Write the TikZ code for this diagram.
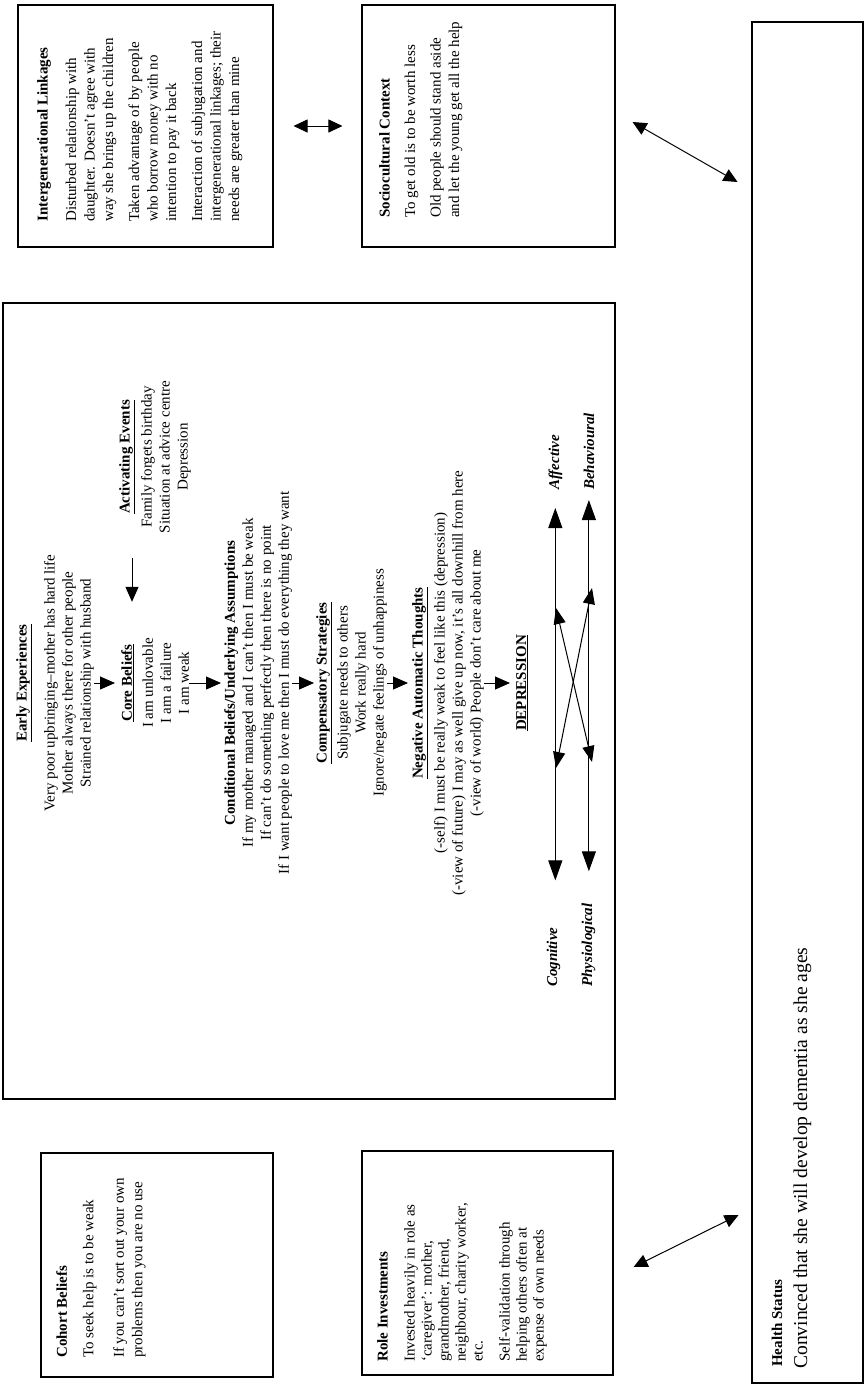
\documentclass[tikz,border=0pt]{standalone}
\usepackage{fontspec}
\setmainfont{Liberation Serif}
\usetikzlibrary{arrows.meta,calc}
\begin{document}
\begin{tikzpicture}[x=1pt,y=-1pt,
  box/.style={draw,line width=1.1pt,inner sep=0pt},
  tb/.style={rotate=90,inner sep=0pt,font=\fontsize{15}{18}\selectfont,align=center,anchor=north},
  bx/.style={rotate=90,inner sep=0pt,font=\fontsize{15}{18.5}\selectfont,align=left,anchor=north west},
  lab/.style={rotate=90,inner sep=0pt,font=\bfseries\itshape\fontsize{15}{18}\selectfont,anchor=base west},
  arr/.style={-{Triangle[length=15pt,width=13pt]},line width=1pt},
  darr/.style={{Triangle[length=14pt,width=13pt]}-{Triangle[length=14pt,width=13pt]},line width=1pt},
  varr/.style={{Triangle[length=20pt,width=14pt]}-{Triangle[length=20pt,width=14pt]},line width=1pt},
  xarr/.style={{Triangle[length=16pt,width=12pt]}-{Triangle[length=16pt,width=12pt]},line width=1pt}]
\useasboundingbox[fill=white] (0,0) rectangle (865,1385);

% outer boxes
\node[box,minimum width=255pt,minimum height=242pt] (ig) at (145.5,126) {};
\node[box,minimum width=253pt,minimum height=242pt] (sc) at (488.5,126) {};
\node[box,minimum width=111pt,minimum height=1361pt] (hs) at (807.5,702.5) {};
\node[box,minimum width=612pt,minimum height=796pt] (main) at (309,701) {};
\node[box,minimum width=232pt,minimum height=224pt] (cb) at (157,1265) {};
\node[box,minimum width=251pt,minimum height=224pt] (ri) at (487.5,1263) {};

% box texts
\node[bx] (igt) at (37,222) {\textbf{Intergenerational Linkages}\\[10pt]
 Disturbed relationship with\\ daughter. Doesn't agree with\\ way she brings up the children\\[7.5pt]
 Taken advantage of by people\\ who borrow money with no\\ intention to pay it back\\[7.5pt]
 Interaction of subjugation and\\ intergenerational linkages; their\\ needs are greater than mine};
\node[bx] (sct) at (379,218) {\textbf{Sociocultural Context}\\[7pt]
 To get old is to be worth less\\[7pt]
 Old people should stand aside\\ and let the young get all the help};
\node[bx] (cbt) at (56,1358) {\textbf{Cohort Beliefs}\\[8pt]
 To seek help is to be weak\\[12pt]
 If you can't sort out your own\\ problems then you are no use};
\node[bx,font=\fontsize{15}{17}\selectfont] (rit) at (377,1362) {\textbf{Role Investments}\\[10pt]
 Invested heavily in role as\\ `caregiver': mother,\\ grandmother, friend,\\ neighbour, charity worker,\\ etc.\\[10pt]
 Self-validation through\\ helping others often at\\ expense of own needs};
\node[rotate=90,anchor=base west,inner sep=0pt,font=\bfseries\fontsize{15}{18}\selectfont] (hst) at (782,1367) {Health Status};
\node[rotate=90,anchor=base west,inner sep=0pt,font=\fontsize{19.6}{22}\selectfont] (hsb) at (807,1369) {Convinced that she will develop dementia as she ages};

% main column
\node[tb] (early) at (16,683) {\underline{\textbf{Early Experiences}}\\[10pt]
 Very poor upbringing--mother has hard life\\ Mother always there for other people\\ Strained relationship with husband};
\node[tb] (core) at (121,683) {\underline{\textbf{Core Beliefs}}\\[3pt]
 I am unlovable\\ I am a failure\\ I am weak};
\node[tb] (activ) at (119,457) {\underline{\textbf{Activating Events}}\\[4pt]
 Family forgets birthday\\ Situation at advice centre\\ Depression};
\node[tb] (cond) at (224,683) {\textbf{Conditional Beliefs/Underlying Assumptions}\\
 If my mother managed and I can't then I must be weak\\
 If can't do something perfectly then there is no point\\
 If I want people to love me then I must do everything they want};
\node[tb] (comp) at (316,683) {\underline{\textbf{Compensatory Strategies}}\\[3pt]
 Subjugate needs to others\\ Work really hard\\ Ignore/negate feelings of unhappiness};
\node[tb] (nat) at (412,683) {\underline{\textbf{Negative Automatic Thoughts}}\\[4pt]
 (-self) I must be really weak to feel like this (depression)\\
 (-view of future) I may as well give up now, it's all downhill from here\\
 (-view of world) People don't care about me};
\node[tb] (dep) at (516,683) {\underline{\textbf{DEPRESSION}}};

\draw[arr,shorten >=6pt] (early.south) -- (early.south -| core.north);
\draw[arr,shorten >=3pt] (core.south) -- (core.south -| cond.north);
\draw[arr,shorten >=2pt] (cond.south) -- (cond.south -| comp.north);
\draw[arr,shorten >=4pt] (comp.south) -- (comp.south -| nat.north);
\draw[arr,shorten >=6pt] (nat.south) -- (nat.south -| dep.north);
\draw[arr,shorten <=25pt,shorten >=36pt] ($(activ.north west)+(13,0)$) -- ($(core.north east)+(11,0)$);

% outer connectors
\draw[darr,shorten <=20pt,shorten >=19pt] (ig.east) -- (sc.west);
\draw[darr] ($(sc.east)+(17,-4)$) -- ++(105,60);
\draw[darr] ($(ri.east)+(20,4)$) -- ++(105,-52);

% depression components
\node[lab] (aff) at (559,490) {Affective};
\node[lab] (beh) at (594,490) {Behavioural};
\node[lab] (cog) at (557,987) {Cognitive};
\node[lab] (phy) at (592,987) {Physiological};
\draw[varr,shorten <=18pt,shorten >=47pt] (aff.west) -- (aff.west |- cog.east);
\draw[varr,shorten <=10pt,shorten >=32pt] (beh.west) -- (beh.west |- phy.east);
\coordinate (d1a) at (556,608);
\coordinate (d1b) at (592,762);
\coordinate (d2a) at (592,588);
\coordinate (d2b) at (556,768);
\draw[xarr] (d1a) -- (d1b);
\draw[xarr] (d2a) -- (d2b);
\end{tikzpicture}
\end{document}
